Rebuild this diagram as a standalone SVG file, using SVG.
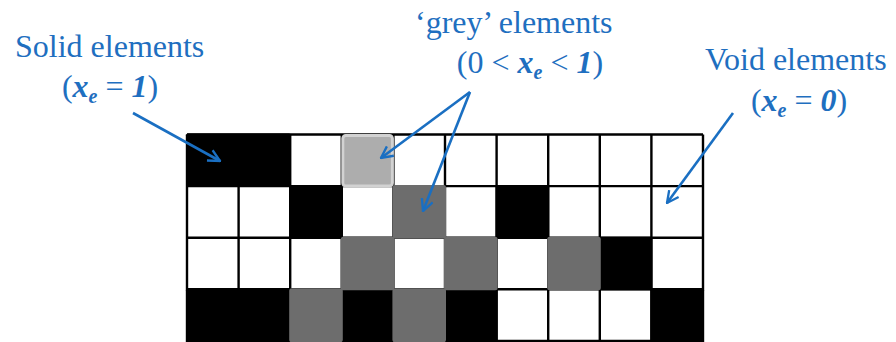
<svg xmlns="http://www.w3.org/2000/svg" width="896" height="342" viewBox="0 0 896 342">
<style>
.lbl{font-family:"Liberation Serif","Times New Roman",serif;font-size:32px;fill:#1f6fc0}
.bi{font-weight:bold;font-style:italic}
.sub{font-size:20px;font-weight:bold;font-style:italic}
.gl{stroke:#000;stroke-width:2.4;fill:none}
.blk{fill:#000}
.dg{fill:#6d6d6d}
.arr{stroke:#1a6fc2;stroke-width:2.6;fill:none;marker-end:url(#ah)}
</style>
<defs>
<marker id="ah" viewBox="0 0 12 12" refX="11" refY="6" markerWidth="14" markerHeight="14" markerUnits="userSpaceOnUse" orient="auto">
<path d="M1,1 L11,6 L1,11" fill="none" stroke="#1a6fc2" stroke-width="2"/>
</marker>
</defs>
<rect width="896" height="342" fill="#fff"/>
<g id="grid">
<g id="gridlines" class="gl">
<path d="M187,134.5H703 M187,186.1H703 M187,237.7H703 M187,289.3H703 M187,340.9H703"/>
<path d="M187,134.5V342 M238.6,134.5V342 M290.2,134.5V342 M341.8,134.5V342 M393.4,134.5V342 M445,134.5V342 M496.6,134.5V342 M548.2,134.5V342 M599.8,134.5V342 M651.4,134.5V342 M703,134.5V342"/>
</g>
<g id="solid-cells" class="blk">
<rect x="186" y="133.5" width="105" height="53.5" rx="2"/>
<rect x="289.2" y="185.1" width="53.6" height="53.6" rx="2"/>
<rect x="495.6" y="185.1" width="53.6" height="53.6" rx="2"/>
<rect x="598.8" y="236.7" width="53.6" height="53.6" rx="2"/>
<rect x="186" y="288.3" width="105" height="54" rx="2"/>
<rect x="340.8" y="288.3" width="53.6" height="54" rx="2"/>
<rect x="444" y="288.3" width="53.6" height="54" rx="2"/>
<rect x="650.4" y="288.3" width="53.6" height="54" rx="2"/>
</g>
<g id="grey-cells" class="dg">
<rect x="392.4" y="185.1" width="53.6" height="53.6" rx="2.5"/>
<rect x="340.8" y="236.7" width="53.6" height="53.6" rx="2.5"/>
<rect x="444" y="236.7" width="53.6" height="53.6" rx="2.5"/>
<rect x="547.2" y="236.7" width="53.6" height="53.6" rx="2.5"/>
<rect x="289.2" y="288.3" width="53.6" height="54" rx="2.5"/>
<rect x="392.4" y="288.3" width="53.6" height="54" rx="2.5"/>
</g>
<g id="light-grey-cell">
<rect x="342.8" y="135.5" width="49.6" height="50.6" rx="3" fill="#adadad" stroke="#d2d2d2" stroke-width="3"/>
</g>
</g>
<g id="label-solid">
<text class="lbl" x="15" y="57">Solid elements</text>
<text class="lbl" x="110" y="97" text-anchor="middle">(<tspan class="bi">x</tspan><tspan class="sub" dy="6">e</tspan><tspan dy="-6"> = </tspan><tspan class="bi">1</tspan>)</text>
</g>
<g id="label-grey">
<text class="lbl" x="415" y="33">‘grey’ elements</text>
<text class="lbl" x="530" y="73" text-anchor="middle">(0 &lt; <tspan class="bi">x</tspan><tspan class="sub" dy="6">e</tspan><tspan dy="-6"> &lt; </tspan><tspan class="bi">1</tspan>)</text>
</g>
<g id="label-void">
<text class="lbl" x="705" y="70">Void elements</text>
<text class="lbl" x="799" y="111" text-anchor="middle">(<tspan class="bi">x</tspan><tspan class="sub" dy="6">e</tspan><tspan dy="-6"> = </tspan><tspan class="bi">0</tspan>)</text>
</g>
<g id="connectors">
<path class="arr" d="M133,113 L220,161"/>
<path class="arr" d="M470,92 L381,158"/>
<path class="arr" d="M470,92 L423,211"/>
<path class="arr" d="M733,113 L667,203"/>
</g>
</svg>
